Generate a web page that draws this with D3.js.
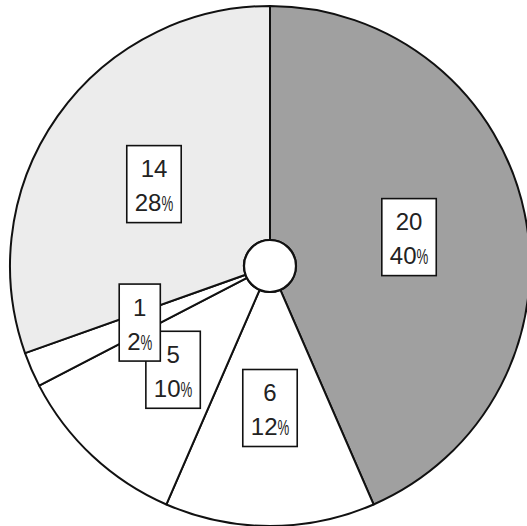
<!DOCTYPE html>
<html>
<head>
<meta charset="utf-8">
<script src="https://cdn.jsdelivr.net/npm/d3@7"></script>
<style>
  html, body { margin: 0; padding: 0; background: #fff; }
  svg { display: block; }
</style>
</head>
<body>
<svg id="chart" width="527" height="526"></svg>
<script>
// Slice counts, in clockwise order from 12 o'clock
const counts = [20, 6, 5, 1, 14];
// Percentage texts shown under each count
const percentLabels = ["40", "12", "10", "2", "28"];
// Slice fills
const fills = ["#a0a0a0", "#ffffff", "#ffffff", "#ffffff", "#ececec"];

const width = 527, height = 526;
const cx = 270, cy = 266;
const outerR = 260, innerR = 26, labelR = 142;

const svg = d3.select("#chart");
const g = svg.append("g").attr("transform", `translate(${cx},${cy})`);

const pie = d3.pie().sort(null).value(d => d);
const arcs = pie(counts);

const arc = d3.arc().innerRadius(innerR).outerRadius(outerR);
const labelArc = d3.arc().innerRadius(labelR).outerRadius(labelR);

// Slices
g.selectAll("path.slice")
  .data(arcs)
  .join("path")
  .attr("class", "slice")
  .attr("d", arc)
  .attr("fill", (d, i) => fills[i])
  .attr("stroke", "#111")
  .attr("stroke-width", 2)
  .attr("stroke-linejoin", "round");

// Centre hole
g.append("circle")
  .attr("r", innerR)
  .attr("fill", "#fff")
  .attr("stroke", "#111")
  .attr("stroke-width", 2.2);

// Boxed labels: count on top, percentage below
const labels = g.selectAll("g.label")
  .data(arcs)
  .join("g")
  .attr("class", "label")
  .attr("transform", d => `translate(${labelArc.centroid(d)})`);

labels.append("rect")
  .attr("fill", "#fff")
  .attr("stroke", "#111")
  .attr("stroke-width", 1.6);

const font = "'Liberation Sans', Arial, sans-serif";
const ink = "#222";

labels.append("text")
  .attr("class", "count")
  .attr("text-anchor", "middle")
  .attr("y", -7)
  .attr("font-family", font)
  .attr("font-size", 24)
  .attr("fill", ink)
  .text(d => d.data);

// Percentage line: number plus a narrow, full-height percent sign
const pctScale = 0.6;
labels.each(function (d, i) {
  const grp = d3.select(this);
  const num = grp.append("text")
    .attr("class", "pct")
    .attr("font-family", font)
    .attr("font-size", 24)
    .attr("fill", ink)
    .attr("y", 27)
    .text(percentLabels[i]);
  const sign = grp.append("text")
    .attr("font-family", font)
    .attr("font-size", 22)
    .attr("fill", ink)
    .text("%");
  const nw = num.node().getComputedTextLength();
  const sw = sign.node().getComputedTextLength() * pctScale;
  const total = nw + sw;
  num.attr("x", -total / 2);
  sign.attr("transform", `translate(${-total / 2 + nw},27) scale(${pctScale},1)`);
  const cw = grp.select("text.count").node().getComputedTextLength();
  const w = Math.max(cw, total) + 16;
  grp.select("rect")
    .attr("x", -w / 2)
    .attr("y", -38.5)
    .attr("width", w)
    .attr("height", 77);
});
</script>
</body>
</html>
